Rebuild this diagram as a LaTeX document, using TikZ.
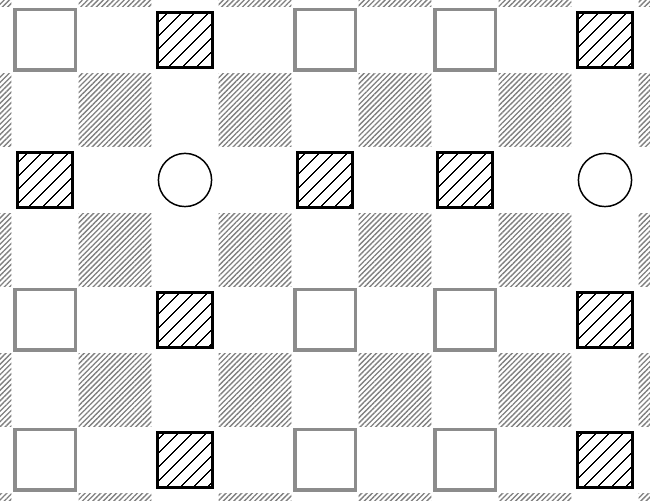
\documentclass[tikz,border=0pt]{standalone}
\usetikzlibrary{patterns.meta}

\begin{document}
\begin{tikzpicture}[
  x=1cm, y=-1cm,
  shade/.style={draw=none, minimum size=1.04cm, pattern={Lines[angle=45, distance=1.5pt, line width=0.55pt]}, pattern color=black!50},
  emptybox/.style={draw=black!45, line width=1.3pt, minimum size=0.86cm},
  blackbox/.style={draw=black, line width=1.3pt, minimum size=0.78cm, pattern={Lines[angle=45, distance=4pt, line width=0.55pt]}},
  ring/.style={circle, draw, line width=0.6pt, minimum size=0.76cm}
]
\clip (0,0) rectangle (9.2857,7.1429);
\fill[white] (0,0) rectangle (9.2857,7.1429);
% background checker cells
\foreach \i in {-1,...,4}
  \foreach \j in {-1,...,3}
    \node[shade] (bg-\i-\j) at (1.643+2*\i, 1.571+2*\j) {};
% boxes and rings
\foreach \row/\kinds in {0/{emptybox,blackbox,emptybox,emptybox,blackbox},
                         1/{blackbox,ring,blackbox,blackbox,ring},
                         2/{emptybox,blackbox,emptybox,emptybox,blackbox},
                         3/{emptybox,blackbox,emptybox,emptybox,blackbox}}
  \foreach \kind [count=\col from 0] in \kinds
    \node[style=\kind] (cell-\col-\row) at (0.643+2*\col, 0.571+2*\row) {};
\end{tikzpicture}
\end{document}
